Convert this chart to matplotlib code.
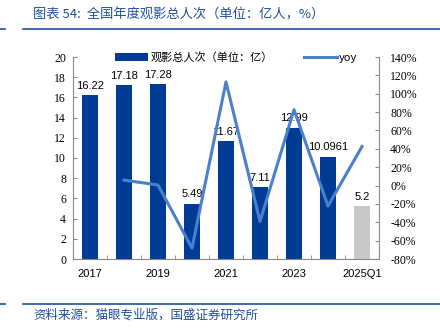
import matplotlib.pyplot as plt
import numpy as np

plt.rcParams['font.family'] = ['Noto Sans CJK SC', 'DejaVu Sans']

# ============================================================
# Data
# ============================================================
years = ["2017", "2018", "2019", "2020", "2021", "2022", "2023", "2024", "2025Q1"]
viewers = [16.22, 17.18, 17.28, 5.49, 11.67, 7.11, 12.99, 10.0961, 5.2]
labels = ["16.22", "17.18", "17.28", "5.49", "11.67", "7.11", "12.99", "10.0961", "5.2"]
yoy = [np.nan, 5.9, 0.6, -68.2, 112.9, -39.1, 82.6, -22.3, 42.5]

bar_blue = "#003C96"
line_blue = "#4A80CC"
grey = "#C8C8C8"
title_blue = "#1F4E9A"

# ============================================================
# Figure
# ============================================================
fig = plt.figure(figsize=(4.4, 3.28), dpi=100)
ax = fig.add_axes([73 / 440, 1 - 259 / 328, (379 - 73) / 440, (259 - 57) / 328])

x = np.arange(len(years))
colors = [bar_blue] * (len(years) - 1) + [grey]
ax.bar(x, viewers, width=0.48, color=colors, zorder=2, label="观影总人次（单位：亿）")

for xi, v, t in zip(x, viewers, labels):
    ax.text(xi, v + 0.45, t, ha="center", va="bottom", fontsize=8,
            family=["Liberation Sans", "DejaVu Sans"], zorder=4)

ax.set_xlim(-0.5, len(years) - 0.5)
ax.set_ylim(0, 20)
ax.set_yticks(range(0, 21, 2))
ax.set_xticks(x[::2])
ax.set_xticklabels(years[::2], family=["Liberation Sans", "DejaVu Sans"], fontsize=8)
ax.set_xticks(np.arange(-0.5, len(years), 1), minor=True)
ax.tick_params(axis="x", which="major", length=0, pad=7)
ax.tick_params(axis="x", which="minor", length=3, direction="in", color="#888888")
ax.tick_params(axis="y", direction="in", length=3, labelsize=8.5, color="#888888", pad=5)
for lab in ax.get_yticklabels():
    lab.set_family(["Liberation Serif", "DejaVu Serif"])

for s in ["top", "right"]:
    ax.spines[s].set_visible(False)
for s in ["left", "bottom"]:
    ax.spines[s].set_color("#888888")
    ax.spines[s].set_linewidth(0.8)

ax2 = ax.twinx()
ax2.plot(x, yoy, color=line_blue, linewidth=2.2, zorder=3, label="yoy")
ax2.set_ylim(-80, 140)
ax2.set_yticks(range(-80, 141, 20))
ax2.set_yticklabels([f"{v}%" for v in range(-80, 141, 20)],
                    family=["Liberation Serif", "DejaVu Serif"], fontsize=8.5)
ax2.tick_params(axis="y", direction="in", length=3, color="#888888", pad=8)
for s in ["top", "left", "bottom"]:
    ax2.spines[s].set_visible(False)
ax2.spines["right"].set_color("#888888")
ax2.spines["right"].set_linewidth(0.8)

h1, l1 = ax.get_legend_handles_labels()
h2, l2 = ax2.get_legend_handles_labels()
ax2.legend(h1 + h2, l1 + l2, loc="upper left", bbox_to_anchor=(0.105, 1.075),
           ncol=2, frameon=False, fontsize=8, handlelength=3.0,
           columnspacing=2.8, handletextpad=0.15)

# ============================================================
# Title and source
# ============================================================
fig.text(33 / 440, 1 - 15 / 328, "图表 54:  全国年度观影总人次（单位：亿人，%）",
         color=title_blue, fontsize=9.5, style="italic", va="center")
fig.add_artist(plt.Line2D([23 / 440, 1], [1 - 29 / 328] * 2, color=title_blue, lw=1.2))
fig.add_artist(plt.Line2D([0, 5 / 440], [1 - 29 / 328] * 2, color=title_blue, lw=1.2))
fig.add_artist(plt.Line2D([23 / 440, 1], [1 - 304 / 328] * 2, color=title_blue, lw=1.2))
fig.add_artist(plt.Line2D([0, 5 / 440], [1 - 304 / 328] * 2, color=title_blue, lw=1.2))
fig.text(33 / 440, 1 - 315 / 328, "资料来源：猫眼专业版，国盛证券研究所",
         color=title_blue, fontsize=9, style="italic", va="center")

fig.savefig("out.png", dpi=100)
